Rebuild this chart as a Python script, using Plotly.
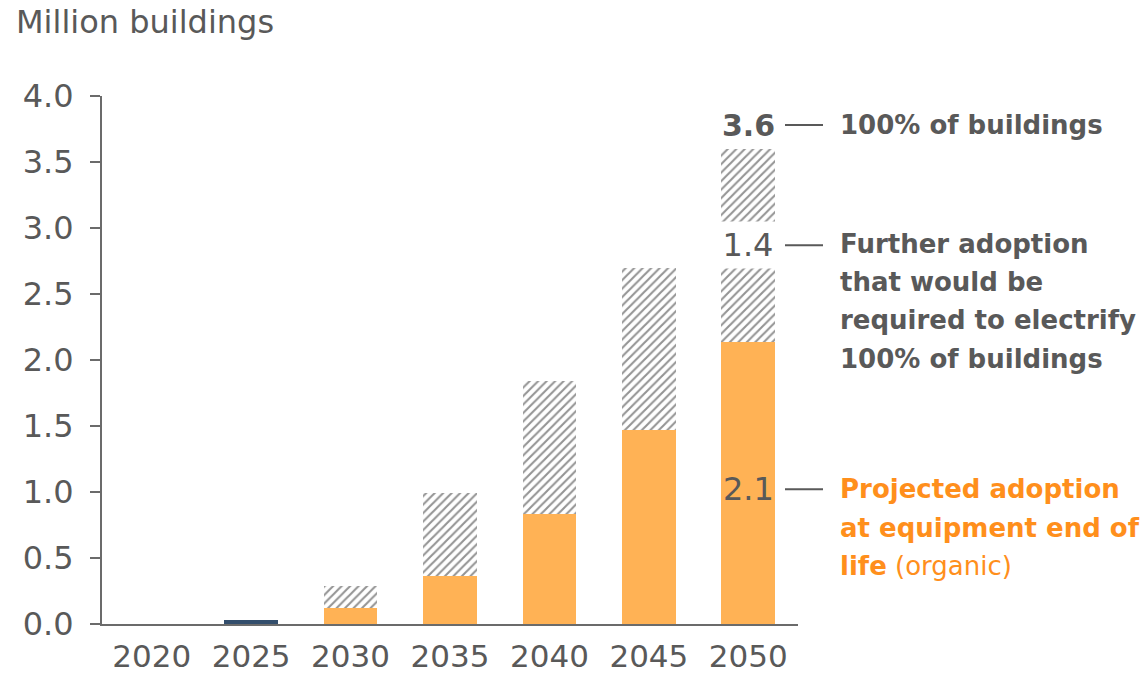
import plotly.graph_objects as go

years = ["2020", "2025", "2030", "2035", "2040", "2045", "2050"]
existing = [0, 0.03, 0, 0, 0, 0, 0]
organic = [0, 0, 0.12, 0.36, 0.83, 1.47, 2.14]
further = [0, 0, 0.17, 0.63, 1.01, 1.23, 1.46]
y_ticks = [0, 0.5, 1.0, 1.5, 2.0, 2.5, 3.0, 3.5, 4.0]
y_tick_text = ["0.0", "0.5", "1.0", "1.5", "2.0", "2.5", "3.0", "3.5", "4.0"]

GRAY = "#595959"
ORANGE_BAR = "#FFB255"
ORANGE_TXT = "#FF8F1C"
NAVY = "#334E6C"
FONT = "DejaVu Sans, Liberation Sans, Arial, sans-serif"

fig = go.Figure()
fig.add_trace(go.Bar(x=years, y=existing, marker=dict(color=NAVY, line=dict(width=0)), name="Existing"))
fig.add_trace(go.Bar(x=years, y=organic, marker=dict(color=ORANGE_BAR, line=dict(width=0)), name="Organic"))
fig.add_trace(go.Bar(x=years, y=further,
                     marker=dict(color="white", line=dict(width=0),
                                 pattern=dict(shape="/", fgcolor="#2a2a2a", bgcolor="white",
                                              size=6, solidity=0.35)),
                     name="Further"))

last = len(years) - 1  # category index of 2050

fig.update_layout(
    barmode="stack",
    bargap=0.46,
    width=1145, height=678,
    margin=dict(l=102, r=347, t=96, b=54),
    plot_bgcolor="white", paper_bgcolor="white",
    showlegend=False,
    font=dict(family=FONT, color=GRAY, size=32),
    xaxis=dict(type="category", range=[-0.5, last + 0.5], showline=True, linecolor="#6b6b6b",
               linewidth=2, ticks="", tickfont=dict(size=31, color=GRAY),
               ticklabelstandoff=4, automargin=False),
    yaxis=dict(range=[0, 4], tickvals=y_ticks, ticktext=y_tick_text, showgrid=False,
               showline=True, linecolor="#6b6b6b", linewidth=2, ticks="outside",
               ticklen=10, tickwidth=2, tickcolor="#6b6b6b", zeroline=False,
               tickfont=dict(size=32, color=GRAY), ticklabelstandoff=10, automargin=False),
)

# Title
fig.add_annotation(text="Million buildings", xref="paper", yref="paper",
                   x=-88/696, y=1 + 74/528, xanchor="left", yanchor="middle",
                   showarrow=False, font=dict(size=32, color=GRAY))

# Value labels on 2050 bar
total = organic[last] + further[last]
fig.add_annotation(text=f"<b>{total:.1f}</b>", x=last, y=3.78, showarrow=False,
                   font=dict(size=30, color=GRAY), yanchor="middle")
fig.add_annotation(text=f"{int(further[last]*10)/10:.1f}", x=last, y=2.87, showarrow=False,
                   font=dict(size=32, color=GRAY), yanchor="middle",
                   bgcolor="white", width=60, height=44, borderpad=1)
fig.add_annotation(text=f"{int(organic[last]*10)/10:.1f}", x=last, y=1.02, showarrow=False,
                   font=dict(size=32, color=GRAY), yanchor="middle")

# Leader lines
for yv in [3.78, 2.87, 1.02]:
    fig.add_shape(type="line", xref="paper", yref="y",
                  x0=(785-102)/696, x1=(823-102)/696, y0=yv, y1=yv,
                  line=dict(color=GRAY, width=2))

tx = (838-102)/696
# Right-side labels
fig.add_annotation(text="<b>100% of buildings</b>", xref="paper", yref="y", x=tx, y=3.78,
                   xanchor="left", yanchor="middle", showarrow=False,
                   font=dict(size=26, color=GRAY))
lines_gray = ["Further adoption", "that would be", "required to electrify", "100% of buildings"]
ys_gray = [2.88, 2.59, 2.30, 2.01]
for t, yv in zip(lines_gray, ys_gray):
    fig.add_annotation(text=f"<b>{t}</b>", xref="paper", yref="y", x=tx, y=yv,
                       xanchor="left", yanchor="middle", showarrow=False,
                       font=dict(size=26, color=GRAY))
lines_or = ["<b>Projected adoption</b>", "<b>at equipment end of</b>", "<b>life</b> (organic)"]
ys_or = [1.02, 0.73, 0.44]
for t, yv in zip(lines_or, ys_or):
    fig.add_annotation(text=t, xref="paper", yref="y", x=tx, y=yv,
                       xanchor="left", yanchor="middle", showarrow=False,
                       font=dict(size=26, color=ORANGE_TXT))

fig.write_html("out.html")
